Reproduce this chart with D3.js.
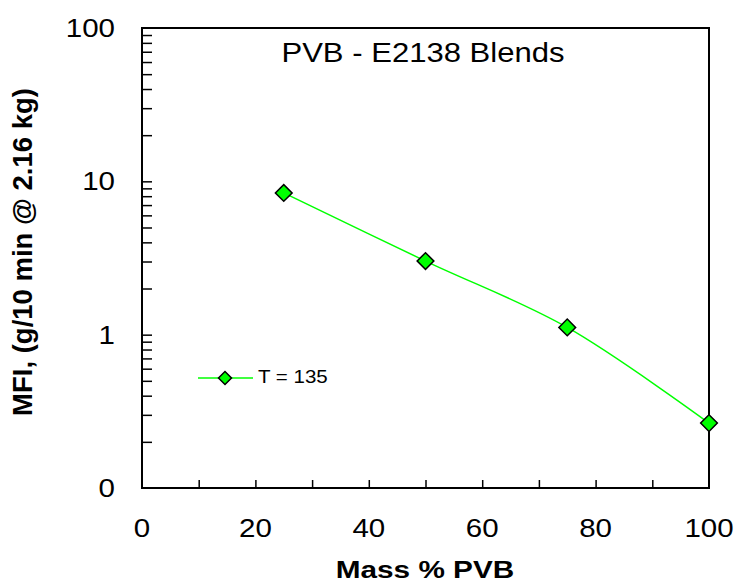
<!DOCTYPE html>
<html>
<head>
<meta charset="utf-8">
<script src="https://cdn.jsdelivr.net/npm/d3@7"></script>
<style>
  body { margin: 0; background: #fff; }
  text { font-family: "Liberation Sans", Arial, sans-serif; fill: #000; }
</style>
</head>
<body>
<svg id="chart" width="739" height="584"></svg>
<script>
// data
const massPct = [25, 50, 75, 100];
const mfi = [8.4, 3.02, 1.115, 0.265];
const seriesName = "T = 135";

const xTickValues = [0, 20, 40, 60, 80, 100];
const xMinorTicks = [10, 20, 30, 40, 50, 60, 70, 80, 90];
const yTickValues = [0.1, 1, 10, 100];
const yTickLabels = ["0", "1", "10", "100"];

const svg = d3.select("#chart");

const margin = { top: 28, right: 30, bottom: 96, left: 142 },
      width = 739 - margin.left - margin.right,
      height = 584 - margin.top - margin.bottom;

const xScale = d3.scaleLinear().domain([0, 100]).range([margin.left, margin.left + width]);
const yScale = d3.scaleLog().domain([0.1, 100]).range([margin.top + height, margin.top]);

// minor log ticks 0.2..0.9, 2..9, 20..90
let yMinor = [];
[0.1, 1, 10].forEach(dec => {
  for (let k = 2; k <= 9; k++) yMinor.push(dec * k);
});
yMinor = yMinor.concat([1, 10]);

// x ticks (inside, pointing up)
svg.append("g")
  .attr("transform", `translate(0,${margin.top + height})`)
  .call(d3.axisTop(xScale).tickValues(xMinorTicks).tickSize(8).tickFormat(""))
  .call(g => g.select(".domain").remove())
  .selectAll("line").attr("stroke", "#000").attr("stroke-width", 1.5);

// y ticks (inside, pointing right)
svg.append("g")
  .attr("transform", `translate(${margin.left},0)`)
  .call(d3.axisRight(yScale).tickValues(yMinor).tickSize(10).tickFormat(""))
  .call(g => g.select(".domain").remove())
  .selectAll("line").attr("stroke", "#000").attr("stroke-width", 1.5);

// frame
svg.append("rect")
  .attr("x", margin.left)
  .attr("y", margin.top)
  .attr("width", width)
  .attr("height", height)
  .attr("fill", "none")
  .attr("stroke", "#000")
  .attr("stroke-width", 2);

// x tick labels
svg.selectAll(".xlab")
  .data(xTickValues)
  .enter().append("text")
  .attr("class", "xlab")
  .attr("transform", d => `translate(${xScale(d)},537) scale(1.18,1)`)
  .attr("text-anchor", "middle")
  .style("font-size", "25px")
  .text(d => d);

// y tick labels
svg.selectAll(".ylab")
  .data(yTickValues)
  .enter().append("text")
  .attr("class", "ylab")
  .attr("transform", d => `translate(115,${yScale(d) + 9}) scale(1.18,1)`)
  .attr("text-anchor", "end")
  .style("font-size", "25px")
  .text((d, i) => yTickLabels[i]);

// axis titles
svg.append("text")
  .attr("transform", "translate(425,578) scale(1.24,1)")
  .attr("text-anchor", "middle")
  .style("font-size", "24px")
  .style("font-weight", "bold")
  .text("Mass % PVB");

svg.append("text")
  .attr("transform", "translate(32,252) rotate(-90)")
  .attr("text-anchor", "middle")
  .style("font-size", "27.5px")
  .style("font-weight", "bold")
  .text("MFI, (g/10 min @ 2.16 kg)");

// title
svg.append("text")
  .attr("transform", "translate(423,62) scale(1.13,1)")
  .attr("text-anchor", "middle")
  .style("font-size", "27.5px")
  .text("PVB - E2138 Blends");

// data line
const points = massPct.map((m, i) => ({ x: m, y: mfi[i] }));

svg.append("path")
  .datum(points)
  .attr("fill", "none")
  .attr("stroke", "#00ff00")
  .attr("stroke-width", 1.5)
  .attr("d", d3.line()
    .x(d => xScale(d.x))
    .y(d => yScale(d.y))
    .curve(d3.curveCatmullRom));

const diamond = d3.symbol().type(d3.symbolSquare);

svg.selectAll(".marker")
  .data(points)
  .enter().append("path")
  .attr("class", "marker")
  .attr("transform", d => `translate(${xScale(d.x)},${yScale(d.y)}) rotate(45)`)
  .attr("d", diamond.size(140)())
  .attr("fill", "#00ff00")
  .attr("stroke", "#000")
  .attr("stroke-width", 1.5);

// legend
const legend = svg.append("g").attr("transform", "translate(198,378)");
legend.append("line")
  .attr("x1", 0).attr("x2", 55)
  .attr("stroke", "#00ff00")
  .attr("stroke-width", 1.5);
legend.append("path")
  .attr("transform", "translate(27,0) rotate(45)")
  .attr("d", diamond.size(85)())
  .attr("fill", "#00ff00")
  .attr("stroke", "#000")
  .attr("stroke-width", 1.5);
legend.append("text")
  .attr("transform", "translate(60,5) scale(1.14,1)")
  .style("font-size", "18px")
  .text(seriesName);
</script>
</body>
</html>
